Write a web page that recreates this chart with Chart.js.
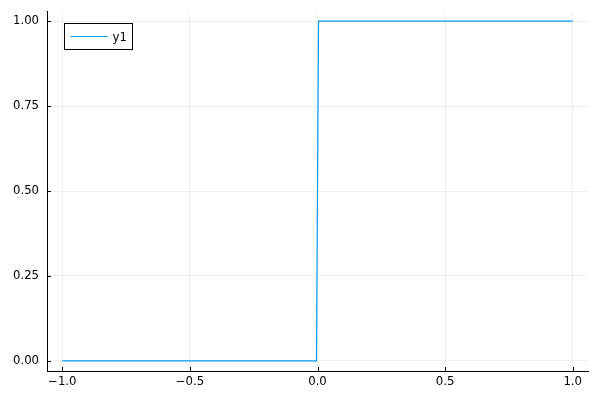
<!DOCTYPE html>
<html>
<head>
<meta charset="utf-8">
<script src="https://cdn.jsdelivr.net/npm/chart.js@4/dist/chart.umd.min.js"></script>
<style>
  html, body { margin: 0; padding: 0; background: #fff; }
</style>
</head>
<body>
<canvas id="stepChart" width="600" height="400"></canvas>
<script>
// series values
const xValues = [-1.0, -0.004, 0.004, 1.0];
const yValues = [0, 0, 1, 1];
const seriesName = "y1";

// tick labels
const xTicks = [-1.0, -0.5, 0.0, 0.5, 1.0];
const xTickLabels = ["\u22121.0", "\u22120.5", "0.0", "0.5", "1.0"];
const yTicks = [0, 0.25, 0.5, 0.75, 1.0];
const yTickLabels = ["0.00", "0.25", "0.50", "0.75", "1.00"];

const lineColor = "#009af9";
const fontFamily = "'DejaVu Sans', sans-serif";
const fontSize = 11.7;

// legend box drawn inside the plot, top-left, like Plots.jl
const insideLegend = {
    id: "insideLegend",
    afterDraw(chart) {
        const ctx = chart.ctx;
        const x = 64.5, y = 23.5, w = 68, h = 26;
        ctx.save();
        ctx.fillStyle = "#fff";
        ctx.fillRect(x, y, w, h);
        ctx.strokeStyle = "#000";
        ctx.lineWidth = 1;
        ctx.strokeRect(x, y, w, h);
        ctx.strokeStyle = lineColor;
        ctx.lineWidth = 1.2;
        ctx.beginPath();
        ctx.moveTo(x + 6, y + h / 2);
        ctx.lineTo(x + 43, y + h / 2);
        ctx.stroke();
        ctx.fillStyle = "#000";
        ctx.font = fontSize + "px " + fontFamily;
        ctx.textBaseline = "middle";
        ctx.fillText(chart.data.datasets[0].label, x + 48, y + h / 2 + 1);
        ctx.restore();
    }
};

// short tick marks pointing into the plot from both axes
const innerTicks = {
    id: "innerTicks",
    afterDatasetsDraw(chart) {
        const ctx = chart.ctx;
        const area = chart.chartArea;
        const xs = chart.scales.x, ys = chart.scales.y;
        ctx.save();
        ctx.strokeStyle = "#000";
        ctx.lineWidth = 1;
        ctx.beginPath();
        xTicks.forEach(v => {
            const px = Math.round(xs.getPixelForValue(v)) + 0.5;
            ctx.moveTo(px, area.bottom);
            ctx.lineTo(px, area.bottom - 4);
        });
        yTicks.forEach(v => {
            const py = Math.round(ys.getPixelForValue(v)) + 0.5;
            ctx.moveTo(area.left, py);
            ctx.lineTo(area.left + 4, py);
        });
        ctx.stroke();
        ctx.restore();
    }
};

new Chart(document.getElementById("stepChart").getContext("2d"), {
    type: "line",
    data: {
        datasets: [{
            label: seriesName,
            data: xValues.map((x, i) => ({ x: x, y: yValues[i] })),
            borderColor: lineColor,
            borderWidth: 1.2,
            pointRadius: 0,
            fill: false,
            tension: 0
        }]
    },
    options: {
        responsive: false,
        animation: false,
        devicePixelRatio: 1,
        layout: { padding: { top: 11, right: 12, left: 0, bottom: 0 } },
        plugins: {
            legend: { display: false },
            tooltip: { enabled: false }
        },
        scales: {
            x: {
                type: "linear",
                min: -1.06,
                max: 1.06,
                afterBuildTicks: (scale) => { scale.ticks = xTicks.map(v => ({ value: v })); },
                afterFit: (scale) => { scale.height = 29; scale.paddingLeft = 0; scale.paddingRight = 0; },
                ticks: {
                    autoSkip: false,
                    maxRotation: 0,
                    padding: 4,
                    color: "#000",
                    font: { family: fontFamily, size: fontSize },
                    callback: (v) => xTickLabels[xTicks.indexOf(v)]
                },
                grid: { color: "rgba(0,0,0,0.06)", drawTicks: false },
                border: { display: true, color: "#000", width: 1 }
            },
            y: {
                type: "linear",
                min: -0.03,
                max: 1.03,
                afterBuildTicks: (scale) => { scale.ticks = yTicks.map(v => ({ value: v })); },
                afterFit: (scale) => { scale.width = 47; scale.paddingTop = 0; scale.paddingBottom = 0; },
                ticks: {
                    autoSkip: false,
                    padding: 8,
                    color: "#000",
                    font: { family: fontFamily, size: fontSize },
                    callback: (v) => yTickLabels[yTicks.indexOf(v)]
                },
                grid: { color: "rgba(0,0,0,0.06)", drawTicks: false },
                border: { display: true, color: "#000", width: 1 }
            }
        }
    },
    plugins: [insideLegend, innerTicks]
});
</script>
</body>
</html>
